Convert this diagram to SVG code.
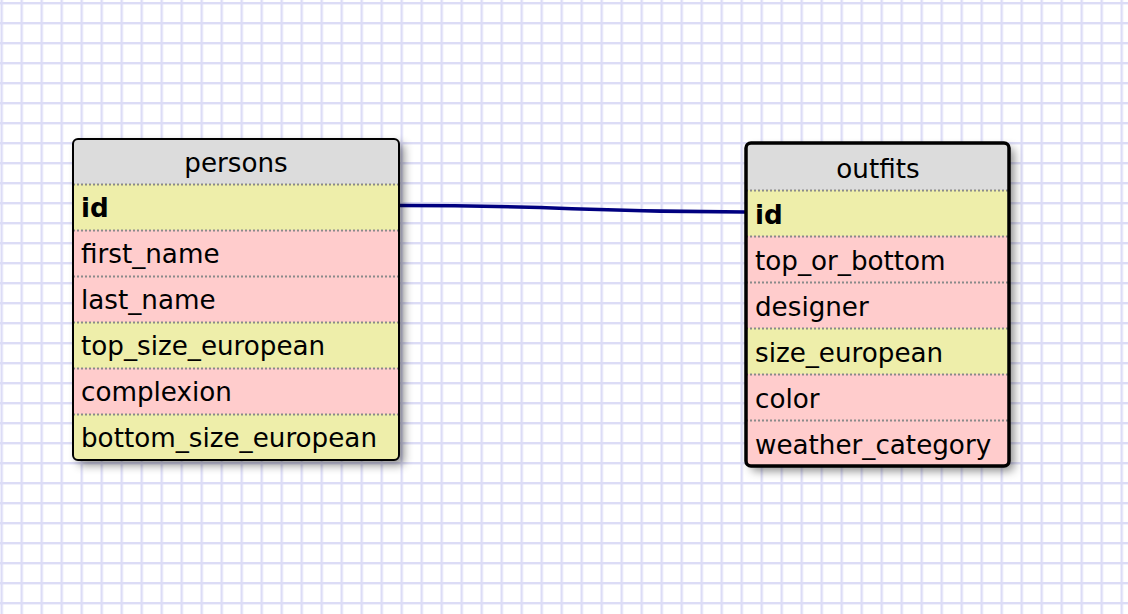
<svg xmlns="http://www.w3.org/2000/svg" width="1128" height="614" viewBox="0 0 1128 614">
<style>
.t{font-family:"DejaVu Sans",Verdana,sans-serif;font-size:26.2px;fill:#000}
.b{font-weight:bold}
.h{fill:#dcdcdc}
.y{fill:#eeeeaa}
.p{fill:#ffcccc}
.sep{stroke:#8a8a8a;stroke-width:2;stroke-dasharray:2 2}
.conn{fill:none;stroke:#000080;stroke-width:3.5}
</style>
<defs>
<pattern id="grid" x="0" y="0" width="20" height="20" patternUnits="userSpaceOnUse" patternTransform="translate(0.5 2)">
<rect width="20" height="20" fill="#fff"/>
<rect x="0" y="0" width="2.4" height="20" fill="#dcdcf6"/>
<rect x="0" y="0" width="20" height="2.4" fill="#dcdcf6"/>
</pattern>
<filter id="sh" x="-10%" y="-10%" width="130%" height="130%">
<feDropShadow dx="5" dy="5" stdDeviation="5" flood-color="#000" flood-opacity="0.45"/>
</filter>
</defs>
<rect width="1128" height="614" fill="url(#grid)"/>
<g id="connectors">
<path class="conn" d="M400,205.5 C572,205.5 572,212 745,212"/>
</g>
<g id="persons">
<rect x="73" y="139" width="326" height="321" rx="5" fill="#fff" filter="url(#sh)"/>
<path class="h" d="M78,139 H394 A5,5 0 0 1 399,144 V184 H73 V144 A5,5 0 0 1 78,139 Z"/>
<rect class="y" x="73" y="184" width="326" height="46"/>
<rect class="p" x="73" y="230" width="326" height="46"/>
<rect class="p" x="73" y="276" width="326" height="46"/>
<rect class="y" x="73" y="322" width="326" height="46"/>
<rect class="p" x="73" y="368" width="326" height="46"/>
<path class="y" d="M73,414 H399 V455 A5,5 0 0 1 394,460 H78 A5,5 0 0 1 73,455 Z"/>
<line class="sep" x1="73" y1="184.5" x2="399" y2="184.5"/>
<line class="sep" x1="73" y1="230.5" x2="399" y2="230.5"/>
<line class="sep" x1="73" y1="276.5" x2="399" y2="276.5"/>
<line class="sep" x1="73" y1="322.5" x2="399" y2="322.5"/>
<line class="sep" x1="73" y1="368.5" x2="399" y2="368.5"/>
<line class="sep" x1="73" y1="414.5" x2="399" y2="414.5"/>
<rect x="73" y="139" width="326" height="321" rx="5" fill="none" stroke="#000" stroke-width="2"/>
<text class="t" x="236" y="172" text-anchor="middle">persons</text>
<text class="t b" x="81" y="217">id</text>
<text class="t" x="81" y="263">first_name</text>
<text class="t" x="81" y="309">last_name</text>
<text class="t" x="81" y="355">top_size_european</text>
<text class="t" x="81" y="401">complexion</text>
<text class="t" x="81" y="447">bottom_size_european</text>
</g>
<g id="outfits">
<rect x="746" y="143" width="263" height="323" rx="5" fill="#fff" filter="url(#sh)"/>
<path class="h" d="M751,143 H1004 A5,5 0 0 1 1009,148 V190 H746 V148 A5,5 0 0 1 751,143 Z"/>
<rect class="y" x="746" y="190" width="263" height="46"/>
<rect class="p" x="746" y="236" width="263" height="46"/>
<rect class="p" x="746" y="282" width="263" height="46"/>
<rect class="y" x="746" y="328" width="263" height="46"/>
<rect class="p" x="746" y="374" width="263" height="46"/>
<path class="p" d="M746,420 H1009 V461 A5,5 0 0 1 1004,466 H751 A5,5 0 0 1 746,461 Z"/>
<line class="sep" x1="746" y1="190.5" x2="1009" y2="190.5"/>
<line class="sep" x1="746" y1="236.5" x2="1009" y2="236.5"/>
<line class="sep" x1="746" y1="282.5" x2="1009" y2="282.5"/>
<line class="sep" x1="746" y1="328.5" x2="1009" y2="328.5"/>
<line class="sep" x1="746" y1="374.5" x2="1009" y2="374.5"/>
<line class="sep" x1="746" y1="420.5" x2="1009" y2="420.5"/>
<rect x="746" y="143" width="263" height="323" rx="5" fill="none" stroke="#000" stroke-width="3.5"/>
<text class="t" x="878" y="178" text-anchor="middle">outfits</text>
<text class="t b" x="755" y="224">id</text>
<text class="t" x="755" y="270">top_or_bottom</text>
<text class="t" x="755" y="316">designer</text>
<text class="t" x="755" y="362">size_european</text>
<text class="t" x="755" y="408">color</text>
<text class="t" x="755" y="454">weather_category</text>
</g>
</svg>
